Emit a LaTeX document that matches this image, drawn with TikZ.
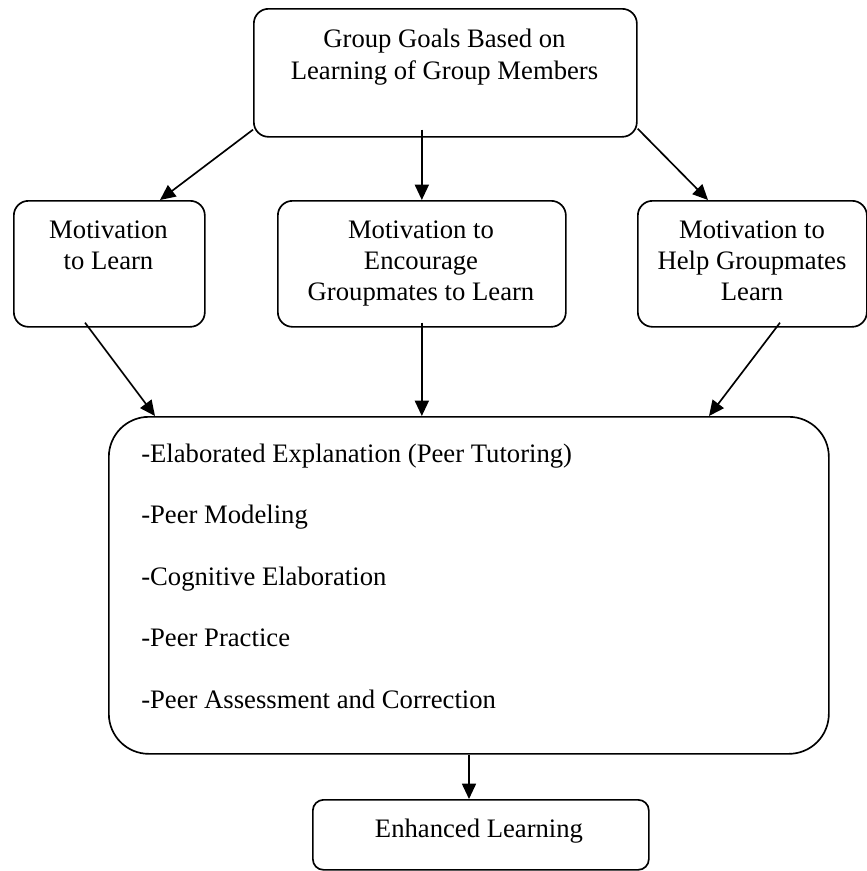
\documentclass[tikz,border=0pt]{standalone}
\usepackage{fontspec}
\setmainfont{Liberation Serif}
\usetikzlibrary{arrows.meta,calc}
\newcommand\mystrut{\rule{0pt}{15pt}}
\begin{document}
\begin{tikzpicture}[x=0.75pt,y=-0.75pt,
  box/.style={draw,line width=1.25pt,rectangle,rounded corners=11pt,anchor=north west,inner sep=0pt},
  txt/.style={inner sep=0pt,font=\fontsize{20}{24.5}\selectfont,align=center},
  arr/.style={line width=1.25pt,-{Triangle[length=11.5pt,width=10.5pt]}}]
\useasboundingbox (0,0) rectangle (867,871);
% boxes
\node[box,minimum width=287.25pt,minimum height=96pt] (top) at (253,8) {};
\node[box,minimum width=143.25pt,minimum height=94.5pt] (left) at (13,200) {};
\node[box,minimum width=216pt,minimum height=94.5pt] (mid) at (277,200) {};
\node[box,minimum width=171.75pt,minimum height=94.5pt] (right) at (637,200) {};
\node[box,minimum width=540pt,minimum height=252.75pt,rounded corners=30pt] (big) at (108,416) {};
\node[box,minimum width=252pt,minimum height=52.5pt,rounded corners=8pt] (enh) at (312,799) {};
% texts
\node[txt,anchor=north] (ttop) at (444.5,27) {\mystrut Group Goals Based on\\Learning of Group Members};
\node[txt,anchor=north,font=\fontsize{20}{23.5}\selectfont] (tleft) at (108.5,218) {\mystrut Motivation\\to Learn};
\node[txt,anchor=north,font=\fontsize{20}{23.5}\selectfont] (tmid) at (421,218) {\mystrut Motivation to\\Encourage\\Groupmates to Learn};
\node[txt,anchor=north,font=\fontsize{20}{23.5}\selectfont] (tright) at (752,218) {\mystrut Motivation to\\Help Groupmates\\Learn};
\node[txt,anchor=north west,align=left,font=\fontsize{20}{46.1}\selectfont] (tbig) at (141,442)
  {\mystrut -Elaborated Explanation (Peer Tutoring)\\-Peer Modeling\\-Cognitive Elaboration\\-Peer Practice\\-Peer Assessment and Correction};
\node[txt,anchor=base] (tenh) at (479,837) {Enhanced Learning};
% arrows
\draw[arr] ($(top.south west)+(0,-8)$) -- ($(left.north west)+(147,0)$);
\draw[arr] ($(top.south -| mid.north)+(0,-8)$) -- (mid.north);
\draw[arr] ($(top.south east)+(0,-9)$) -- ($(right.north west)+(71,0)$);
\draw[arr] ($(left.south west)+(72,-5)$) -- ($(big.north west)+(47,0)$);
\draw[arr] ($(mid.south)+(0,-5)$) -- (big.north -| mid.south);
\draw[arr] ($(right.south west)+(143,-5)$) -- ($(big.north west)+(601,0)$);
\draw[arr] ($(big.south west)+(361,0)$) -- ($(enh.north west)+(157,0)$);
\end{tikzpicture}
\end{document}
